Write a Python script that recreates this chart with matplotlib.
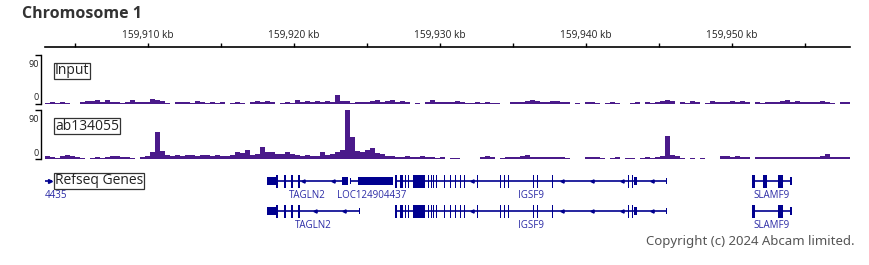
import matplotlib
matplotlib.use("Agg")
import matplotlib.pyplot as plt
import numpy as np

# ---------------- data ----------------
VIEW_KB = (159902.95, 159958.08)
MAJOR_TICKS_KB = [159910, 159920, 159930, 159940, 159950]
MINOR_TICKS_KB = [159905, 159915, 159925, 159935, 159945, 159955]
TICK_LABELS = ["159,910 kb", "159,920 kb", "159,930 kb", "159,940 kb", "159,950 kb"]

BIN_START_KB = 159902.95
BIN_KB = 0.3425
DATA_RANGE = (0, 90)

input_signal = [
    2, 3, 2, 3, 2, 0, 0, 4, 6, 5, 7, 4, 7, 3, 4, 2, 4, 7, 3, 4,
    3, 9, 7, 5, 1, 0, 3, 4, 3, 2, 5, 4, 2, 3, 2, 3, 0, 2, 4, 2,
    0, 3, 5, 4, 5, 3, 0, 2, 3, 2, 7, 4, 5, 4, 6, 4, 5, 4, 16, 6,
    5, 2, 3, 4, 3, 6, 7, 4, 5, 7, 4, 5, 3, 0, 2, 0, 3, 7, 4, 3,
    4, 3, 5, 3, 1, 2, 3, 2, 3, 2, 2, 0, 0, 3, 4, 3, 5, 7, 5, 4,
    3, 6, 5, 4, 3, 0, 2, 0, 3, 3, 2, 0, 2, 4, 2, 0, 0, 2, 3, 0,
    3, 2, 3, 6, 8, 6, 0, 3, 2, 6, 3, 0, 2, 5, 4, 3, 4, 6, 4, 5,
    3, 0, 4, 2, 3, 4, 3, 5, 7, 4, 5, 3, 4, 3, 4, 5, 3, 2, 0, 4,
    3,
]

ab134055_signal = [
    5, 3, 2, 6, 7, 5, 4, 2, 0, 2, 3, 2, 3, 5, 6, 3, 4, 2, 0, 3,
    6, 12, 50, 14, 8, 6, 7, 5, 8, 7, 6, 8, 7, 6, 7, 5, 6, 8, 12, 11,
    17, 8, 10, 22, 13, 12, 9, 10, 12, 9, 7, 6, 7, 5, 6, 12, 7, 10, 13, 16,
    90, 40, 15, 13, 16, 20, 11, 9, 6, 5, 3, 4, 5, 4, 3, 5, 3, 3, 2, 3,
    0, 2, 2, 0, 0, 0, 0, 3, 5, 3, 0, 2, 4, 3, 4, 5, 7, 4, 3, 4,
    3, 4, 3, 3, 2, 0, 0, 0, 3, 4, 3, 2, 0, 2, 3, 0, 2, 2, 0, 2,
    3, 2, 3, 6, 42, 7, 6, 2, 0, 2, 0, 2, 0, 0, 0, 5, 6, 4, 5, 4,
    3, 0, 3, 4, 3, 4, 3, 4, 3, 4, 3, 4, 3, 4, 3, 5, 9, 4, 3, 4,
    3,
]

tagln2_a_exons = [(159918.15, 159918.77, "utr"), (159918.77, 159918.90, "cds"),
                  (159919.32, 159919.45, "cds"), (159919.80, 159919.90, "cds"),
                  (159920.31, 159920.41, "cds"), (159923.32, 159923.70, "utr")]
tagln2_b_exons = [(159918.15, 159918.77, "utr"), (159918.77, 159918.90, "cds"),
                  (159919.32, 159919.45, "cds"), (159919.80, 159919.90, "cds"),
                  (159920.31, 159920.41, "cds"), (159924.42, 159924.49, "tick")]
loc_exons = [(159923.84, 159923.90, "tick"), (159924.38, 159926.78, "utr")]
igsf9_exons = [(159926.92, 159927.05, "cds"), (159927.26, 159927.47, "cds"),
               (159927.60, 159927.67, "cds"), (159927.78, 159927.88, "cds"),
               (159928.15, 159928.97, "cds"), (159929.18, 159929.25, "cds"),
               (159929.38, 159929.45, "cds"), (159929.55, 159929.62, "cds"),
               (159929.73, 159929.79, "cds"), (159930.27, 159930.34, "cds"),
               (159930.68, 159930.75, "cds"), (159931.03, 159931.10, "cds"),
               (159931.37, 159931.44, "cds"), (159931.64, 159931.71, "cds"),
               (159932.53, 159932.60, "cds"), (159934.11, 159934.18, "cds"),
               (159934.38, 159934.45, "cds"), (159934.66, 159934.73, "cds"),
               (159936.37, 159936.44, "cds"), (159936.64, 159936.71, "cds"),
               (159937.67, 159937.74, "cds"), (159942.88, 159942.95, "cds"),
               (159943.15, 159943.22, "cds"), (159943.32, 159943.49, "utr"),
               (159945.50, 159945.55, "tick")]
slamf9_a_exons = [(159951.37, 159951.58, "cds"), (159952.12, 159952.40, "cds"),
                  (159953.15, 159953.49, "cds"), (159953.97, 159954.11, "utr")]
slamf9_b_exons = [(159951.37, 159951.58, "cds"), (159953.15, 159953.49, "cds"),
                  (159953.97, 159954.11, "utr")]

genes = [
    ("TAGLN2", "-", 159918.15, 159923.70, 0, tagln2_a_exons),
    ("LOC124904437", "+", 159923.84, 159926.78, 0, loc_exons),
    ("IGSF9", "-", 159926.92, 159945.55, 0, igsf9_exons),
    ("SLAMF9", "-", 159951.37, 159954.11, 0, slamf9_a_exons),
    ("TAGLN2", "-", 159918.15, 159924.49, 1, tagln2_b_exons),
    ("IGSF9", "-", 159926.92, 159945.55, 1, igsf9_exons),
    ("SLAMF9", "-", 159951.37, 159954.11, 1, slamf9_b_exons),
]
LEFT_GENE_END_KB = 159903.42
LEFT_GENE_LABEL = "4435"

# ---------------- style / layout ----------------
W, H = 869, 265
DPI = 100
SIG_COLOR = "#4a1a8a"
GENE_COLOR = "#00008f"
GENE_LABEL_COLOR = "#2b2ba6"
FONT = ["Open Sans", "DejaVu Sans"]
plt.rcParams["font.family"] = FONT


def rect(x0, y0, x1, y1):
    return [x0 / W, 1 - y1 / H, (x1 - x0) / W, (y1 - y0) / H]


BOX = dict(boxstyle="square,pad=0.06", fc="white", ec="#333333", lw=0.9)

fig = plt.figure(figsize=(W / DPI, H / DPI), dpi=DPI)
fig.patch.set_facecolor("white")

fig.text(22 / W, 1 - 14 / H, "Chromosome 1", fontsize=11.5, fontweight="bold",
         color="#333333", ha="left", va="center")

# ruler
ax_r = fig.add_axes(rect(45, 47, 850, 47.01))
ax_r.set_xlim(*VIEW_KB)
for s in ["left", "right", "bottom"]:
    ax_r.spines[s].set_visible(False)
ax_r.spines["top"].set_linewidth(1.2)
ax_r.xaxis.set_ticks_position("top")
ax_r.set_xticks(MAJOR_TICKS_KB)
ax_r.set_xticklabels(TICK_LABELS)
ax_r.set_xticks(MINOR_TICKS_KB, minor=True)
ax_r.tick_params(axis="x", which="both", direction="out", length=3, width=1,
                 labelsize=7.3, pad=1.5, labelcolor="#222222")
ax_r.set_yticks([])

edges = BIN_START_KB + BIN_KB * np.arange(len(input_signal) + 1)


def track(y0, y1, values, label):
    ax = fig.add_axes(rect(45, y0, 850, y1))
    ax.set_xlim(*VIEW_KB)
    ax.set_ylim(*DATA_RANGE)
    vals = np.clip(np.asarray(values, float), *DATA_RANGE)
    ax.stairs(vals, edges, fill=True, color=SIG_COLOR, linewidth=0)
    for s in ["top", "right", "bottom"]:
        ax.spines[s].set_visible(False)
    ax.spines["left"].set_position(("outward", 3))
    ax.spines["left"].set_linewidth(1)
    ax.set_xticks([])
    ax.set_yticks(list(DATA_RANGE))
    ax.set_yticklabels([])
    ax.tick_params(axis="y", length=4.3, width=1, direction="out")
    ax.annotate(str(DATA_RANGE[1]), xy=(0, DATA_RANGE[1]), xycoords=("axes fraction", "data"),
                xytext=(-6, -9), textcoords="offset pixels", ha="right", va="center",
                fontsize=6.5, color="#222222")
    ax.annotate(str(DATA_RANGE[0]), xy=(0, DATA_RANGE[0]), xycoords=("axes fraction", "data"),
                xytext=(-6, 6), textcoords="offset pixels", ha="right", va="center",
                fontsize=6.5, color="#222222")
    ax.text(10 / 805, 1 - 16 / (y1 - y0), label, transform=ax.transAxes, fontsize=10,
            ha="left", va="center", color="#222222", bbox=BOX)
    ax.patch.set_alpha(0)
    return ax


track(55, 104, input_signal, "Input")
track(110, 159, ab134055_signal, "ab134055")

# genes
ax_g = fig.add_axes(rect(45, 168, 850, 235))
ax_g.set_xlim(*VIEW_KB)
ax_g.set_ylim(67, 0)
ax_g.axis("off")
ROW_Y = [13, 43]
HEIGHTS = {"cds": 13, "utr": 8, "tick": 6}
CHEVRON_STEP_KB = 2.05

for name, strand, g0, g1, row, exons in genes:
    yc = ROW_Y[row]
    ax_g.hlines(yc, g0, g1, color=GENE_COLOR, lw=1.2)
    for kind in HEIGHTS:
        segs = [(a, b - a) for a, b, k in exons if k == kind]
        if segs:
            h = HEIGHTS[kind]
            ax_g.broken_barh(segs, (yc - h / 2, h), facecolors=GENE_COLOR, edgecolor="none")
    marker = "<" if strand == "-" else ">"
    pos = g1 - 1.03
    chev = []
    while pos > g0:
        if not any(a - 0.1 <= pos <= b + 0.1 for a, b, k in exons):
            chev.append(pos)
        pos -= CHEVRON_STEP_KB
    ax_g.plot(chev, [yc] * len(chev), ls="none", marker=marker, ms=2.3, color=GENE_COLOR,
              mec=GENE_COLOR)
    ax_g.text((g0 + g1) / 2, yc + 15, name, ha="center", va="center", fontsize=7,
              color=GENE_LABEL_COLOR)

# partial gene at left edge
ax_g.hlines(ROW_Y[0], VIEW_KB[0] - 1, LEFT_GENE_END_KB, color=GENE_COLOR, lw=1.2)
ax_g.plot([LEFT_GENE_END_KB - 0.12], [ROW_Y[0]], ls="none", marker=">", ms=2.8, color=GENE_COLOR)
ax_g.text(VIEW_KB[0] - 0.05, ROW_Y[0] + 15, LEFT_GENE_LABEL, ha="left", va="center", fontsize=7,
          color=GENE_LABEL_COLOR)
ax_g.text(10 / 805, 1 - 13 / 67, "Refseq Genes", transform=ax_g.transAxes, fontsize=10,
          ha="left", va="center", color="#222222", bbox=BOX)

fig.text(855 / W, 1 - 241 / H, "Copyright (c) 2024 Abcam limited.", ha="right", va="center",
         fontsize=9.5, color="#555555", family=["Noto Sans", "DejaVu Sans"])

fig.savefig("out.png", dpi=DPI, facecolor="white")
